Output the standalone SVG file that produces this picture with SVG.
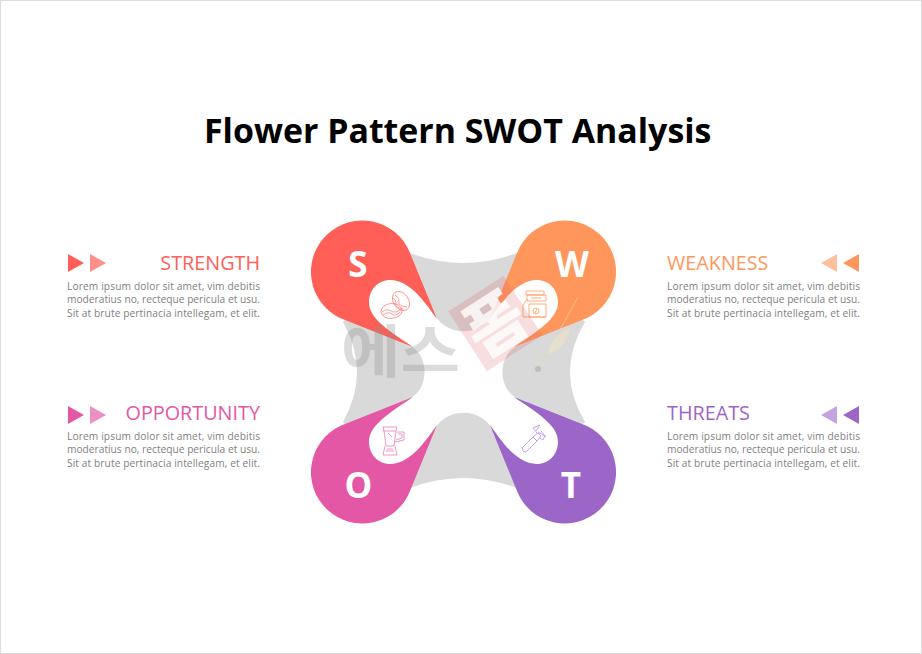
<svg xmlns="http://www.w3.org/2000/svg" width="922" height="654" viewBox="0 0 922 654">
<style>
.t{font-family:"Open Sans","Noto Sans",sans-serif}
.title{font-size:33.900px;font-weight:700;fill:#000}
.head{font-size:19.800px}
.body{font-size:10.200px;fill:#7f7f7f}
.letter{font-size:35px;font-weight:700;fill:#fff;text-anchor:middle}
.r{text-anchor:end}
.ic{fill:none;stroke-width:.8}
</style>
<defs>
<path id="petal" d="M437,319 L410,253 A51.300,51.300 0 1 0 340,318 L413,347 C383,327 369,317 369,302 C369,290 378,280 390,280 C412,280 428,307 437,319 Z"/>
<path id="blob" fill="#fff" stroke="#fff" d="M437,319 C428,307 412,280 390,280 C378,280 369,290 369,302 C369,317 383,327 413,347 Z"/>
</defs>
<rect x=".5" y=".5" width="921" height="653" fill="#fff" stroke="#dcdcdc"/>
<text class="t title" x="204" y="143">Flower Pattern SWOT Analysis</text>
<g id="center">
<path fill="#d9d9d9" d="M410,253 Q463,273 517,253 L585,322 Q555,372 585,422 L517,488 Q463,468 410,488 L343,422 Q371,372 343,322 Z"/>
<path fill="#fff" stroke="#fff" stroke-width="1" d="M437,319 C450,336 477,336 490,319 L514,347 C498,358 498,386 514,397 L490,425 C477,408 450,408 437,425 L413,397 C429,386 429,358 413,347 Z"/>
<use href="#blob"/>
<use href="#blob" transform="matrix(-1 0 0 1 927 0)"/>
<use href="#blob" transform="matrix(1 0 0 -1 0 744)"/>
<use href="#blob" transform="matrix(-1 0 0 -1 927 744)"/>
</g>
<g id="strength">
<use href="#petal" fill="#ff5f57"/>
<text class="t letter" x="358" y="277">S</text>
<g class="ic" stroke="#ff8580">
<ellipse cx="401" cy="301" rx="7.500" ry="10.500" transform="rotate(-35 401 301)"/>
<path d="M395,295 Q400,298 399,302 T407,307 M393,298 Q397,301 396,304 T403,309"/>
<ellipse cx="391.500" cy="311" rx="10.500" ry="7.500" transform="rotate(-5 391.500 311)"/>
<path d="M382,312 Q387,308 391,311 T401,309 M383,315 Q388,311 392,314 T400,312"/>
</g>
<path fill="#ff5f57" d="M68,254 L84,263 L68,272 Z"/><path fill="#ff8f89" d="M90,254 L106,263 L90,272 Z"/>
<text class="t head r" x="260" y="270" fill="#ff5f57">STRENGTH</text>
<text class="t body" x="67" y="290" textLength="193">Lorem ipsum dolor sit amet, vim debitis</text>
<text class="t body" x="67" y="303.300" textLength="193">moderatius no, recteque pericula et usu.</text>
<text class="t body" x="67" y="316.700" textLength="193">Sit at brute pertinacia intellegam, et elit.</text>
</g>
<g id="weakness">
<use href="#petal" fill="#ff975c" transform="matrix(-1 0 0 1 927 0)"/>
<text class="t letter" x="572" y="277">W</text>
<g class="ic" stroke="#ff975c">
<path d="M526,291 H544 V295 H526 Z M527,295 H546 V301 H527 Z M531,298 H541 M529,304 H546 V317 H529 Z M523,317 H546 M523,317 V305 L527,299"/>
<circle cx="536" cy="311" r="3"/><path d="M535,313 L537,309"/>
</g>
<path fill="#ffc09d" d="M837,254 L821,263 L837,272 Z"/><path fill="#ff975c" d="M859,254 L843,263 L859,272 Z"/>
<text class="t head" x="667" y="270" fill="#ff975c">WEAKNESS</text>
<text class="t body" x="667" y="290" textLength="193">Lorem ipsum dolor sit amet, vim debitis</text>
<text class="t body" x="667" y="303.300" textLength="193">moderatius no, recteque pericula et usu.</text>
<text class="t body" x="667" y="316.700" textLength="193">Sit at brute pertinacia intellegam, et elit.</text>
</g>
<g id="opportunity">
<use href="#petal" fill="#e457a4" transform="matrix(1 0 0 -1 0 744)"/>
<text class="t letter" x="358.500" y="498">O</text>
<g class="ic" stroke="#ea7fba">
<path d="M383,427 H397 L396,431 L394,446 H386 L384,431 Z M383,431 H396 M397,432 H404 V440 L395,442 M398,434 H402 V438 L396,440 M388,433 L392,437 M385,446 L383,455 H397 L395,446 M386,451 H394 M387,449 H393"/>
</g>
<path fill="#e457a4" d="M68,406 L84,415 L68,424 Z"/><path fill="#ec8fc2" d="M90,406 L106,415 L90,424 Z"/>
<text class="t head r" x="260" y="420" fill="#e457a4">OPPORTUNITY</text>
<text class="t body" x="67" y="440" textLength="193">Lorem ipsum dolor sit amet, vim debitis</text>
<text class="t body" x="67" y="453.300" textLength="193">moderatius no, recteque pericula et usu.</text>
<text class="t body" x="67" y="466.700" textLength="193">Sit at brute pertinacia intellegam, et elit.</text>
</g>
<g id="threats">
<use href="#petal" fill="#9c66c8" transform="matrix(-1 0 0 -1 927 744)"/>
<text class="t letter" x="571" y="498">T</text>
<g class="ic" stroke="#b48de0">
<path d="M522,448 L533,437 L537,441 L526,452 Q523,453 522,448 Z M533,437 L538,433 L541,436 L537,441 M537,433 L533,428 L540,425 L536,431 M538,432 L545,436 L543,440 L540,438 M541,431 L546,437"/>
</g>
<path fill="#c4a3e0" d="M837,406 L821,415 L837,424 Z"/><path fill="#9c66c8" d="M859,406 L843,415 L859,424 Z"/>
<text class="t head" x="667" y="420" fill="#9c66c8">THREATS</text>
<text class="t body" x="667" y="440" textLength="193">Lorem ipsum dolor sit amet, vim debitis</text>
<text class="t body" x="667" y="453.300" textLength="193">moderatius no, recteque pericula et usu.</text>
<text class="t body" x="667" y="466.700" textLength="193">Sit at brute pertinacia intellegam, et elit.</text>
</g>
<g id="watermark">
<text x="341" y="372" textLength="119" lengthAdjust="spacingAndGlyphs" font-family="'Noto Sans CJK KR',sans-serif" font-weight="700" font-size="57" fill="#8c8c8c" fill-opacity=".3">에스</text>
<g transform="rotate(-33 495 323)">
<rect x="462" y="288" width="66" height="71" fill="#dc5a5a" fill-opacity=".2"/>
<text x="495" y="347" text-anchor="middle" font-family="'Noto Sans CJK KR',sans-serif" font-weight="900" font-size="64" fill="#fff" fill-opacity=".8">폼</text>
</g>
<path d="M578,297 Q560,330 539,367" fill="none" stroke="#e6d9a8" stroke-opacity=".6"/>
<path d="M570,328 Q566,350 548,354 Q551,336 570,328 Z" fill="#f3e6c0" fill-opacity=".45"/>
<circle cx="538" cy="369" r="3" fill="#bdbdbd"/>
</g>
</svg>
